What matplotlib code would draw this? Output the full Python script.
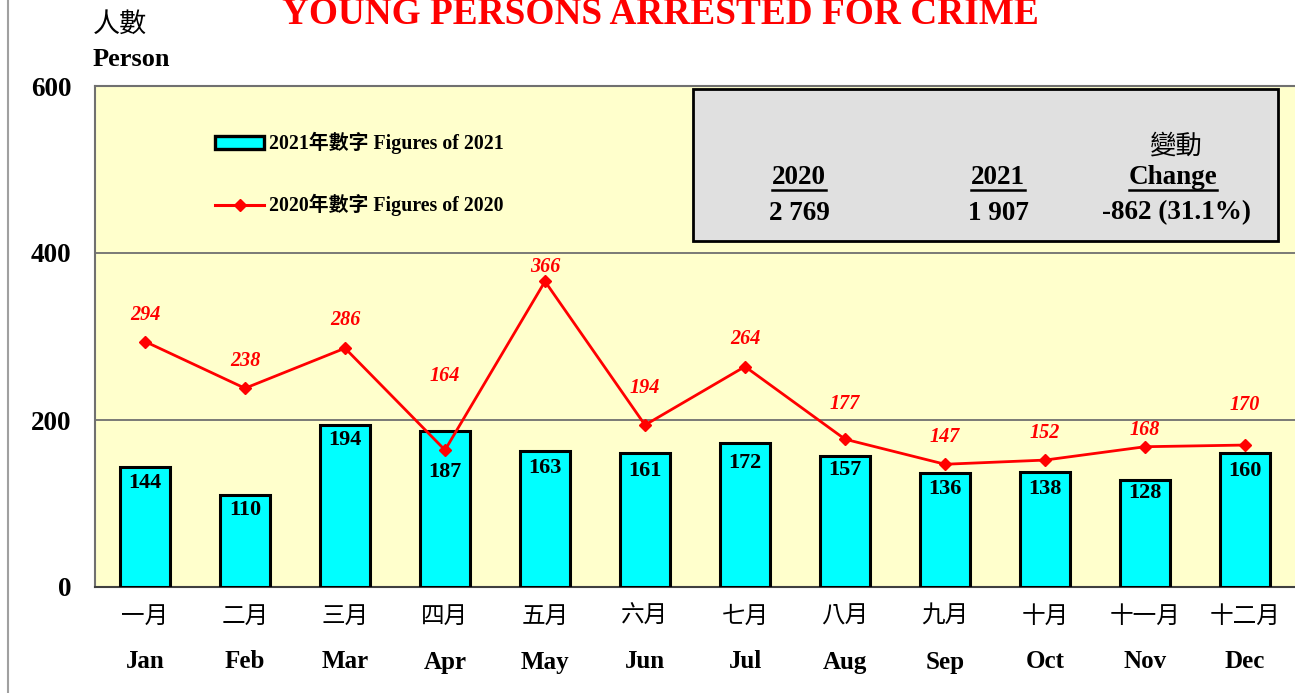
import matplotlib
matplotlib.use("Agg")
import matplotlib.pyplot as plt
from matplotlib.patches import Rectangle, Patch
from matplotlib.lines import Line2D

# data
months_zh = ["一月", "二月", "三月", "四月", "五月", "六月",
             "七月", "八月", "九月", "十月", "十一月", "十二月"]
months_en = ["Jan", "Feb", "Mar", "Apr", "May", "Jun",
             "Jul", "Aug", "Sep", "Oct", "Nov", "Dec"]
figs_2021 = [144, 110, 194, 187, 163, 161, 172, 157, 136, 138, 128, 160]
figs_2020 = [294, 238, 286, 164, 366, 194, 264, 177, 147, 152, 168, 170]
total_2020 = "2 769"
total_2021 = "1 907"
change_txt = "-862 (31.1%)"

# label placement (pixels)
bar_drop = [16, 15, 15, 41, 17, 18, 20, 14, 16, 17, 13, 18]
line_lift = [27, 27, 28, 74, 14, 37, 28, 35, 27, 27, 17, 40]

FONT = ["Liberation Serif", "Noto Sans CJK TC", "DejaVu Sans"]
plt.rcParams["font.family"] = FONT

fig = plt.figure(figsize=(12.95, 6.93), dpi=100)
W, H = 1295, 693
ax = fig.add_axes([95 / W, (H - 587) / H, 1200 / W, (587 - 86) / H])
ax.set_facecolor("#FFFFCC")

x = list(range(len(months_en)))
ax.bar(x, figs_2021, width=0.5, color="#00FFFF", edgecolor="black",
       linewidth=2.2, zorder=3)
ax.plot(x, figs_2020, color="red", lw=2, marker="D", ms=6, zorder=4)

ax.set_xlim(-0.5, 11.5)
ax.set_ylim(0, 600)
ax.set_yticks([0, 200, 400, 600])
ax.set_yticklabels(["0", "200", "400", "600"], fontsize=19.5, fontweight="bold")
ax.tick_params(axis="y", length=0, pad=17)
ax.set_xticks([])
for y in (200, 400):
    ax.axhline(y, color="#707070", lw=1.3, zorder=1)
for s in ("top", "left"):
    ax.spines[s].set_color("#707070")
    ax.spines[s].set_linewidth(1.5)
ax.spines["bottom"].set_color("#404040")
ax.spines["bottom"].set_linewidth(1.5)
ax.spines["right"].set_visible(False)

for i, v in enumerate(figs_2021):
    ax.annotate(str(v), (i, v), xytext=(0, -bar_drop[i]), textcoords="offset pixels",
                ha="center", va="center", fontsize=16, fontweight="bold", zorder=5)
for i, v in enumerate(figs_2020):
    ax.annotate(str(v), (i, v), xytext=(0, line_lift[i]), textcoords="offset pixels",
                ha="center", va="center", fontsize=14.5, fontweight="bold",
                fontstyle="italic", color="red", zorder=5)

# month labels under the axis
for i in x:
    ax.annotate(months_zh[i], (i, 0), xytext=(0, -30), textcoords="offset pixels",
                ha="center", va="center", fontsize=17, annotation_clip=False)
    ax.annotate(months_en[i], (i, 0), xytext=(0, -75), textcoords="offset pixels",
                ha="center", va="center", fontsize=18, fontweight="bold",
                annotation_clip=False)

# legend
handles = [Patch(facecolor="#00FFFF", edgecolor="black", linewidth=2.4),
           Line2D([], [], color="red", lw=2.2, marker="D", ms=6.5)]
ax.legend(handles, ["2021年數字 Figures of 2021", "2020年數字 Figures of 2020"],
          loc="upper left", bbox_to_anchor=(0.0915, 0.928), frameon=False,
          prop={"family": FONT, "weight": "bold", "size": 14.3},
          handlelength=2.5, handleheight=0.6, handletextpad=0.25,
          labelspacing=2.0, borderpad=0)

# summary box
def axp(px, py):
    return ((px - 95) / 1200, (587 - py) / 501)

bx0, by0 = axp(693, 241)
bx1, by1 = axp(1278, 89)
ax.add_patch(Rectangle((bx0, by0), bx1 - bx0, by1 - by0, transform=ax.transAxes,
                       facecolor="#E0E0E0", edgecolor="black", lw=2, zorder=6))
box_txt = dict(ha="center", va="center", fontsize=19.5, fontweight="bold",
               transform=ax.transAxes, zorder=7)
heads = []
heads.append(ax.text(*axp(799, 178), "2020", **box_txt))
heads.append(ax.text(*axp(998, 178), "2021", **box_txt))
heads.append(ax.text(*axp(1173, 178), "Change", **box_txt))
ax.text(*axp(1175, 146), "變動", **{**box_txt, "fontweight": "normal", "fontsize": 19})
ax.text(*axp(799, 213), total_2020, **box_txt)
ax.text(*axp(998, 213), total_2021, **box_txt)
ax.text(*axp(1177, 213), change_txt, **box_txt)

fig.canvas.draw()
r = fig.canvas.get_renderer()
for t in heads:
    bb = t.get_window_extent(r)
    fig.add_artist(Line2D([bb.x0 / W, bb.x1 / W], [(bb.y0 + 1) / H] * 2,
                          color="black", lw=1.8))

# axis title and chart title
fig.text(93 / W, 1 - 25 / H, "人數", fontsize=19.5, ha="left", va="center")
fig.text(93 / W, 1 - 60 / H, "Person", fontsize=19, fontweight="bold",
         ha="left", va="center")
fig.text(660 / W, 1 - 24 / H, "YOUNG PERSONS ARRESTED FOR CRIME", color="red",
         fontsize=26.8, fontweight="bold", ha="center", va="baseline")

fig.add_artist(Line2D([8 / W, 8 / W], [0, 1], color="#A0A0A0", lw=1.5))

fig.savefig("out.png", dpi=100, facecolor="white")
